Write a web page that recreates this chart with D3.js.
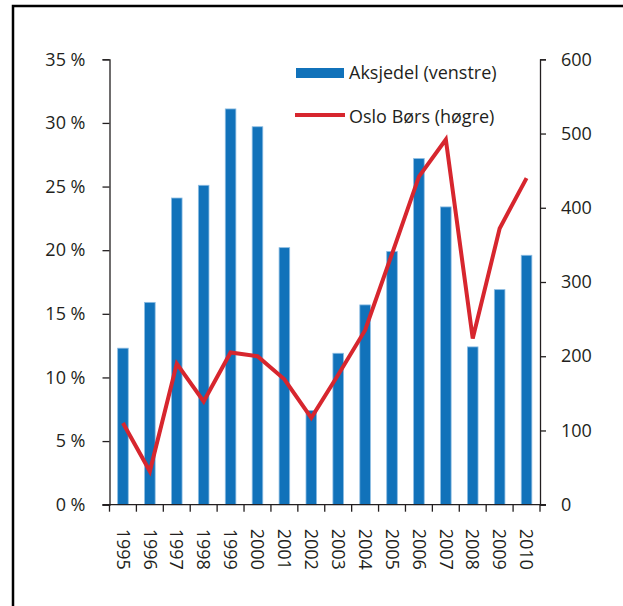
<!DOCTYPE html>
<html>
<head>
<meta charset="utf-8">
<script src="https://cdn.jsdelivr.net/npm/d3@7"></script>
<style>
  body { margin: 0; background: #fff; }
  svg text { font-family: "Open Sans", sans-serif; fill: #231f20; }
</style>
</head>
<body>
<svg id="chart" width="623" height="606"></svg>
<script>
  // data
  var years = ['1995','1996','1997','1998','1999','2000','2001','2002',
               '2003','2004','2005','2006','2007','2008','2009','2010'];
  var aksjedel = [12.3, 15.9, 24.1, 25.1, 31.1, 29.7, 20.2, 7.4,
                  11.9, 15.7, 19.9, 27.2, 23.4, 12.4, 16.9, 19.6];
  var osloBors = [110, 45, 190, 139, 205, 200, 169, 117,
                  175, 235, 338, 442, 492, 224, 372, 440];
  var leftTicks = [0, 5, 10, 15, 20, 25, 30, 35];
  var rightTicks = [0, 100, 200, 300, 400, 500, 600];
  var legendLabels = ['Aksjedel (venstre)', 'Oslo Børs (høgre)'];

  var blue = '#1172ba', red = '#d7262e', ink = '#231f20';

  var svg = d3.select('#chart');

  // frame (only top and left edges show in the crop)
  svg.append('path')
    .attr('d', 'M13,606V6H623')
    .attr('fill', 'none')
    .attr('stroke', '#000')
    .attr('stroke-width', 2.5);

  var plotLeft = 109.5, plotRight = 540, plotTop = 59.3, plotBottom = 504.7;

  var xTicks = d3.scaleBand().domain(years).range([plotLeft, plotRight]);
  var yL = d3.scaleLinear().domain([0, 35]).range([plotBottom, plotTop]);
  var yR = d3.scaleLinear().domain([0, 600]).range([plotBottom, plotTop]);

  function cx(i) { return xTicks(years[i]) + xTicks.bandwidth() / 2; }

  // bars
  svg.append('g')
    .selectAll('rect')
    .data(aksjedel)
    .enter()
    .append('rect')
    .attr('x', function (d, i) { return cx(i) - 5.3; })
    .attr('width', 10.6)
    .attr('y', function (d) { return yL(d); })
    .attr('height', function (d) { return plotBottom - yL(d); })
    .attr('fill', blue)
    .attr('stroke', '#8dbde3')
    .attr('stroke-width', 0.8);

  // line
  var line = d3.line()
    .x(function (d, i) { return cx(i); })
    .y(function (d) { return yR(d); });

  svg.append('path')
    .datum(osloBors)
    .attr('d', line)
    .attr('fill', 'none')
    .attr('stroke', red)
    .attr('stroke-width', 4)
    .attr('stroke-linejoin', 'miter');

  // left axis
  var gL = svg.append('g').attr('transform', 'translate(' + plotLeft + ',0)')
    .call(d3.axisLeft(yL).tickValues(leftTicks).tickSize(7).tickPadding(17)
      .tickFormat(function (d) { return d + ' %'; }));

  // right axis
  var gR = svg.append('g').attr('transform', 'translate(' + plotRight + ',0)')
    .call(d3.axisRight(yR).tickValues(rightTicks).tickSize(6).tickPadding(15));

  // bottom axis, ticks at category boundaries
  var gB = svg.append('g').attr('transform', 'translate(0,' + plotBottom + ')');
  gB.append('line')
    .attr('x1', plotLeft - 7).attr('x2', plotRight + 6)
    .attr('stroke', ink).attr('stroke-width', 1.3);
  gB.selectAll('.tk')
    .data(years.concat(['end']))
    .enter()
    .append('line')
    .attr('x1', function (d, i) { return i < years.length ? xTicks(d) : plotRight; })
    .attr('x2', function (d, i) { return i < years.length ? xTicks(d) : plotRight; })
    .attr('y2', 7)
    .attr('stroke', ink).attr('stroke-width', 1.3);
  gB.selectAll('text')
    .data(years)
    .enter()
    .append('text')
    .attr('transform', function (d, i) {
      return 'translate(' + cx(i) + ',24) rotate(90)';
    })
    .attr('dy', '0.35em')
    .attr('font-size', 18)
    .text(function (d) { return d; });

  [gL, gR].forEach(function (g) {
    g.select('.domain').attr('stroke', ink).attr('stroke-width', 1.3);
    g.selectAll('.tick line').attr('stroke', ink).attr('stroke-width', 1.3);
    g.selectAll('.tick text').attr('font-size', 18).attr('font-family', '"Open Sans", sans-serif').attr('fill', ink);
  });

  // legend
  var lg = svg.append('g');
  lg.append('rect')
    .attr('x', 296).attr('y', 68).attr('width', 48).attr('height', 10)
    .attr('fill', blue);
  lg.append('line')
    .attr('x1', 295).attr('x2', 345).attr('y1', 115).attr('y2', 115)
    .attr('stroke', red).attr('stroke-width', 4);
  lg.selectAll('text')
    .data(legendLabels)
    .enter()
    .append('text')
    .attr('x', 349)
    .attr('y', function (d, i) { return 79 + i * 44; })
    .attr('font-size', 18)
    .text(function (d) { return d; });
</script>
</body>
</html>
